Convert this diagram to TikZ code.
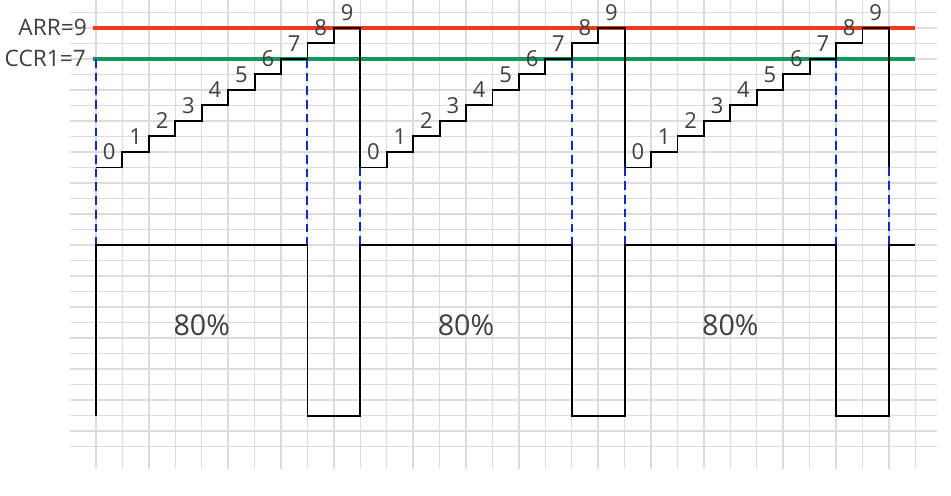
\documentclass[tikz,border=0pt]{standalone}
\usepackage{fontspec}
\setmainfont{Open Sans}
\definecolor{arrred}{HTML}{F03A1E}
\definecolor{ccrgreen}{HTML}{12995A}
\definecolor{dashblue}{HTML}{1428C8}
\definecolor{gridgray}{HTML}{DCDCDC}
\definecolor{txtgray}{HTML}{3F3F3F}
\begin{document}
\begin{tikzpicture}[x=0.75pt,y=-0.75pt,
  gridline/.style={draw=gridgray,line width=1.1pt},
  levelline/.style={line width=3pt},
  stair/.style={draw=black,line width=1.4pt,line join=miter},
  pulse/.style={draw=black,line width=1.4pt},
  guide/.style={draw=dashblue,line width=1.5pt,dash pattern=on 6.5pt off 3.8pt},
  digit/.style={text=txtgray,font=\fontsize{16.5}{19}\selectfont,inner sep=0pt},
  reglabel/.style={text=txtgray,font=\fontsize{17}{20}\selectfont,inner sep=0pt,anchor=east},
  duty/.style={text=txtgray,font=\fontsize{21.5}{26}\selectfont,inner sep=0pt}]
\def\cw{26.43}
\def\rh{15.514}
\useasboundingbox (0,0) rectangle (951,496);
\fill[white] (0,0) rectangle (951,496);
% grid
\foreach \i in {0,...,31} \draw[gridline] ({96+\i*\cw},0) -- ({96+\i*\cw},469);
\foreach \j in {0,...,28} \draw[gridline] (69.5,{12.3+\j*\rh}) -- (937,{12.3+\j*\rh});
% ARR and CCR1 levels
\draw[levelline,draw=arrred] (93,{12.3+\rh}) -- (915,{12.3+\rh});
\draw[levelline,draw=ccrgreen] (93,{12.3+3*\rh}) -- (915,{12.3+3*\rh});
\node[reglabel] (arr) at (87,{12.3+\rh}) {ARR=9};
\node[reglabel] (ccr) at (86,{12.3+3*\rh}) {CCR1=7};
% blue dashed guides
\foreach \c in {0,8,18,28}
  \draw[guide] ({96+\c*\cw},{12.3+3*\rh}) -- ({96+\c*\cw},{12.3+15*\rh});
\foreach \c in {10,20,30}
  \draw[guide] ({96+\c*\cw},{12.3+10*\rh}) -- ({96+\c*\cw},{12.3+15*\rh});
% counter staircase
\foreach \c in {0,1,2}{
  \draw[stair] ({96+10*\c*\cw},{12.3+10*\rh})
    \foreach \k in {0,...,8}{ -- ++(\cw,0) -- ++(0,-\rh) }
    -- ++(\cw,0) -- ++(0,{9*\rh});
  \foreach \k in {0,...,9}
    \node[digit] (d\c\k) at ({96+(10*\c+\k+0.5)*\cw},{12.3+(10-\k)*\rh-15.5}) {\k};
}
% PWM output
\draw[pulse] (96,{12.3+26*\rh})
  -- (96,{12.3+15*\rh}) -- ({96+8*\cw},{12.3+15*\rh}) -- ({96+8*\cw},{12.3+26*\rh})
  -- ({96+10*\cw},{12.3+26*\rh}) -- ({96+10*\cw},{12.3+15*\rh})
  -- ({96+18*\cw},{12.3+15*\rh}) -- ({96+18*\cw},{12.3+26*\rh})
  -- ({96+20*\cw},{12.3+26*\rh}) -- ({96+20*\cw},{12.3+15*\rh})
  -- ({96+28*\cw},{12.3+15*\rh}) -- ({96+28*\cw},{12.3+26*\rh})
  -- ({96+30*\cw},{12.3+26*\rh}) -- ({96+30*\cw},{12.3+15*\rh})
  -- ({96+31*\cw},{12.3+15*\rh});
\node[duty] (p1) at ({96+4*\cw},325.5) {80\%};
\node[duty] (p2) at ({96+14*\cw},325.5) {80\%};
\node[duty] (p3) at ({96+24*\cw},325.5) {80\%};
\end{tikzpicture}
\end{document}
